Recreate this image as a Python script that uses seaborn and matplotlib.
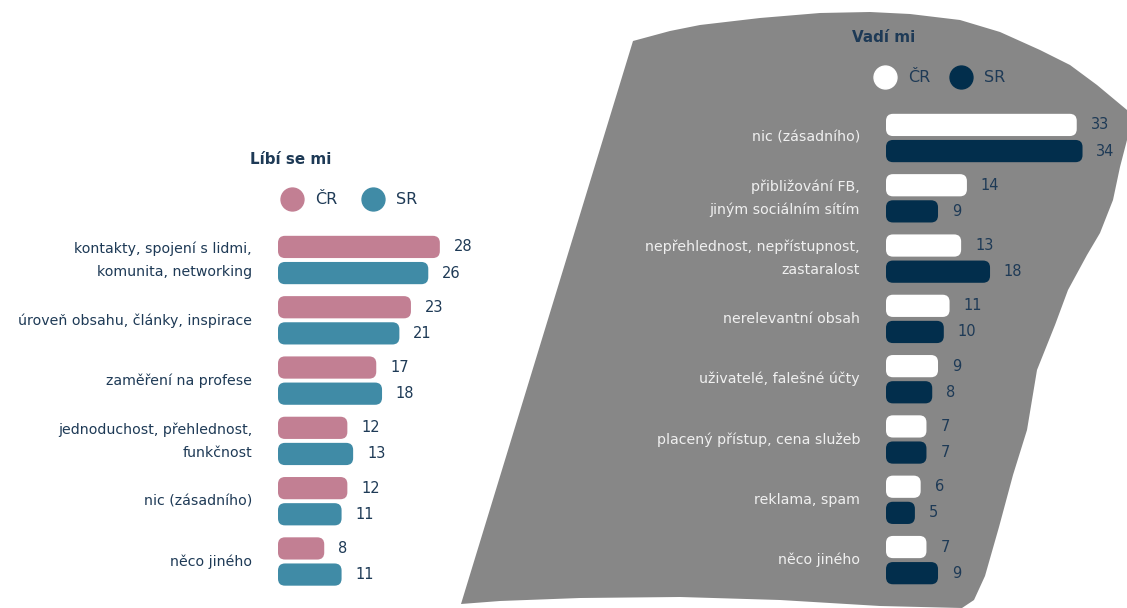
import matplotlib
matplotlib.use("Agg")
import matplotlib.pyplot as plt
import seaborn as sns
import pandas as pd
from matplotlib.patches import FancyBboxPatch, Polygon, Rectangle
from matplotlib.lines import Line2D

# ---------------- data ----------------
series = ["ČR", "SR"]

like_title = "Líbí se mi"
like_categories = [
    "kontakty, spojení s lidmi,\nkomunita, networking",
    "úroveň obsahu, články, inspirace",
    "zaměření na profese",
    "jednoduchost, přehlednost,\nfunkčnost",
    "nic (zásadního)",
    "něco jiného",
]
like_cr = [28, 23, 17, 12, 12, 8]
like_sr = [26, 21, 18, 13, 11, 11]

dislike_title = "Vadí mi"
dislike_categories = [
    "nic (zásadního)",
    "přibližování FB,\njiným sociálním sítím",
    "nepřehlednost, nepřístupnost,\nzastaralost",
    "nerelevantní obsah",
    "uživatelé, falešné účty",
    "placený přístup, cena služeb",
    "reklama, spam",
    "něco jiného",
]
dislike_cr = [33, 14, 13, 11, 9, 7, 6, 7]
dislike_sr = [34, 9, 18, 10, 8, 7, 5, 9]

# ---------------- style ----------------
sns.set_theme(style="white")
plt.rcParams["font.family"] = ["DejaVu Sans"]

W, H = 1127, 608
fig = plt.figure(figsize=(W / 100, H / 100), dpi=100)
fig.patch.set_facecolor("white")

NAVY_TXT = "#1e3a56"
PINK = "#c27f93"
TEAL = "#408ba6"
WHITE = "#ffffff"
NAVY = "#022e4c"
GREY = "#878787"

PX_X = 5.78      # pixels per value unit
PX_Y = 60.3      # pixels per category
XMAX = 36

def fx(px):
    return px / W

def fy(py):
    return 1 - py / H

# grey background shape (figure coordinates)
poly_px = [(633, 41), (670, 31), (700, 25), (760, 18), (820, 13), (870, 12),
           (910, 14), (960, 20), (1000, 32), (1040, 50), (1070, 65),
           (1097, 85), (1115, 100), (1127, 110), (1127, 140), (1120, 167),
           (1113, 200), (1100, 233), (1087, 255), (1068, 290), (1055, 325),
           (1037, 370), (1027, 430), (1013, 475), (999, 527), (985, 576),
           (974, 600), (962, 608), (880, 606), (780, 600), (680, 597),
           (580, 598), (500, 601), (461, 604)]
fig.add_artist(Polygon([(fx(x), fy(y)) for x, y in poly_px], closed=True,
                       transform=fig.transFigure, facecolor=GREY,
                       edgecolor="none", zorder=-5))


def panel(left_px, center0_px, cats, cr, sr, colors, label_color):
    n = len(cats)
    top = center0_px - PX_Y / 2
    bottom = top + n * PX_Y
    ax = fig.add_axes([fx(left_px), fy(bottom), XMAX * PX_X / W, n * PX_Y / H])
    ax.patch.set_visible(False)
    df = pd.DataFrame({
        "category": cats * 2,
        "value": cr + sr,
        "country": [series[0]] * n + [series[1]] * n,
    })
    sns.barplot(data=df, y="category", x="value", hue="country",
                hue_order=series, order=cats, orient="h",
                palette=dict(zip(series, colors)), width=0.867, gap=0.15,
                ax=ax, legend=False, saturation=1, errorbar=None)
    ax.set_xlim(0, XMAX)
    ax.set_ylim(n - 0.5, -0.5)
    for c in ax.containers:
        ax.bar_label(c, padding=10, fontsize=10.5, color=NAVY_TXT)
    # rounded bars
    r = 7 / PX_X
    asp = PX_X / PX_Y
    for p in list(ax.patches):
        if isinstance(p, Rectangle):
            x, y, w, h = p.get_x(), p.get_y(), p.get_width(), p.get_height()
            fc = p.get_facecolor()
            p.set_visible(False)
            ax.add_patch(FancyBboxPatch((x, y), w, h,
                                        boxstyle=f"round,pad=0,rounding_size={r}",
                                        mutation_aspect=asp, facecolor=fc,
                                        edgecolor="none"))
    for s in ax.spines.values():
        s.set_visible(False)
    ax.set_xticks([])
    ax.set_xlabel("")
    ax.set_ylabel("")
    ax.set_yticks(range(n))
    labels = ax.set_yticklabels(cats, fontsize=10.2, color=label_color,
                                linespacing=1.8)
    for t in labels:
        t.set_verticalalignment("center")
    ax.tick_params(axis="y", length=0, pad=18.7)
    return ax


ax1 = panel(278, 260, like_categories, like_cr, like_sr, [PINK, TEAL], NAVY_TXT)
ax2 = panel(886, 138, dislike_categories, dislike_cr, dislike_sr, [WHITE, NAVY],
            "#f0f0f0")

# titles
fig.text(fx(291), fy(160), like_title, ha="center", va="center",
         fontsize=10.9, fontweight="bold", color=NAVY_TXT)
fig.text(fx(884), fy(38), dislike_title, ha="center", va="center",
         fontsize=10.9, fontweight="bold", color=NAVY_TXT)


def legend(colors, x_px, y_px, colsp):
    handles = [Line2D([], [], marker="o", ls="", markersize=16.5,
                      markerfacecolor=c, markeredgecolor=c) for c in colors]
    lg = fig.legend(handles, series, loc="center left",
                    bbox_to_anchor=(fx(x_px), fy(y_px)),
                    bbox_transform=fig.transFigure, ncol=2, frameon=False,
                    fontsize=11.5, handlelength=1.0, handletextpad=0.94,
                    columnspacing=colsp, borderpad=0, borderaxespad=0)
    for t in lg.get_texts():
        t.set_color(NAVY_TXT)
    return lg


legend([PINK, TEAL], 284, 200, 1.75)
legend([WHITE, NAVY], 877, 78, 1.45)

fig.savefig("out.png", dpi=100)
